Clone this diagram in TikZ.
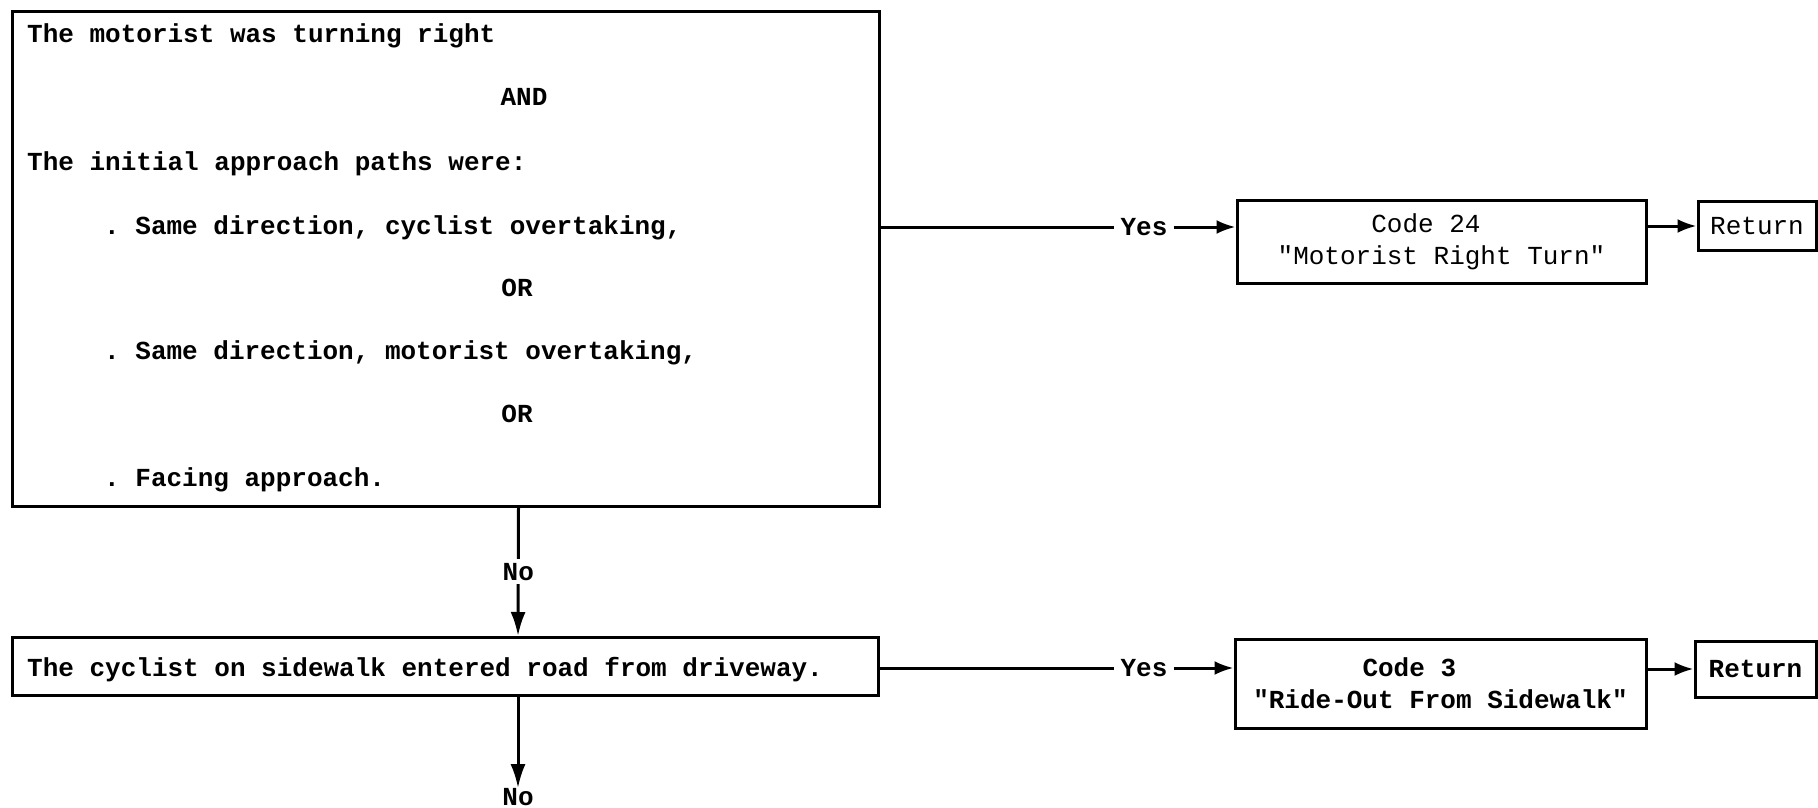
\documentclass[tikz,border=0pt]{standalone}
\usepackage{fontspec}
\setmonofont{Liberation Mono}
\usetikzlibrary{arrows.meta}
\begin{document}
\begin{tikzpicture}[x=1pt,y=-1pt,
  every node/.style={font=\ttfamily\bfseries\fontsize{26}{32}\selectfont, inner sep=0pt},
  light/.style={font=\ttfamily\mdseries\fontsize{26}{32}\selectfont},
  box/.style={draw, line width=3pt, rectangle, align=center},
  conn/.style={line width=3pt},
  arr/.style={line width=3pt, -{Latex[length=19pt,width=14pt]}},
  varr/.style={line width=3pt, -{Latex[length=24pt,width=15pt]}},
  lbl/.style={fill=white, inner sep=4pt}
  ]
\fill[white] (0,0) rectangle (1818,808);
\useasboundingbox (0,0) rectangle (1818,808);

% decision 1
\node[box, minimum width=867pt, minimum height=494pt] (q1) at (445.5,259) {};
\node[anchor=base west] (l1) at (27,43) {The motorist was turning right};
\node[anchor=base] (l2) at (524,106) {AND};
\node[anchor=base west] (l3) at (27,170) {The initial approach paths were:};
\node[anchor=base west] (l4) at (104,234) {. Same direction, cyclist overtaking,};
\node[anchor=base] (l5) at (517,296) {OR};
\node[anchor=base west] (l6) at (104,359) {. Same direction, motorist overtaking,};
\node[anchor=base] (l7) at (517,422) {OR};
\node[anchor=base west] (l8) at (104,486) {. Facing approach.};

% decision 2
\node[box, minimum width=866pt, minimum height=58pt, anchor=center] (q2) at (445,666.5) {};
\node[anchor=base west] (m1) at (27,676) {The cyclist on sidewalk entered road from driveway.};

% outcomes row 1
\node (yes1) at (1144,227) {Yes};
\node[box, light, minimum width=409pt, minimum height=83pt] (c24) at (1441.5,242)
  {Code 24\phantom{xx}\\"Motorist Right Turn"};
\node[box, light, minimum width=118pt, minimum height=49pt] (r1) at (1757,226) {Return};

% outcomes row 2
\node (yes2) at (1144,668) {Yes};
\node[box, minimum width=411pt, minimum height=89pt] (c3) at (1440.5,683.5)
  {Code 3\phantom{xxxx}\\"Ride-Out From Sidewalk"};
\node[box, minimum width=121pt, minimum height=56pt] (r2) at (1755.5,669) {Return};

\node (no2) at (518,797) {No};

% connectors
\draw[conn] (q1.east |- yes1) -- ([xshift=-6pt]yes1.west);
\draw[arr] ([xshift=6pt]yes1.east) -- (yes1 -| c24.west);
\draw[arr] (c24.east |- r1) -- (r1.west);

\draw[conn] (q2.east |- yes2) -- ([xshift=-6pt]yes2.west);
\draw[arr] ([xshift=6pt]yes2.east) -- (yes2 -| c3.west);
\draw[arr] (c3.east |- r2) -- (r2.west);

\draw[varr] ([xshift=73pt]q1.south) -- node[lbl] (no1) {No} ([xshift=73pt]q2.north);
\draw[varr] ([xshift=73pt]q2.south) -- (no2.north);
\end{tikzpicture}
\end{document}
